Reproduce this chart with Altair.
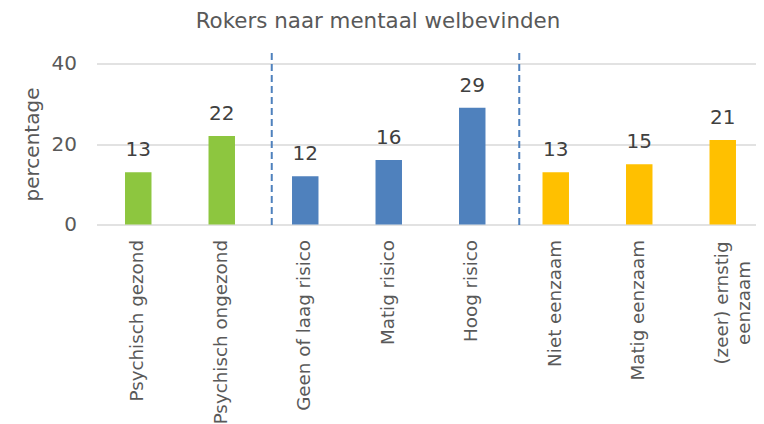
import altair as alt
import pandas as pd

categories = ["Psychisch gezond", "Psychisch ongezond", "Geen of laag risico",
              "Matig risico", "Hoog risico", "Niet eenzaam", "Matig eenzaam",
              "(zeer) ernstig eenzaam"]
values = [13, 22, 12, 16, 29, 13, 15, 21]
groups = ["psychisch", "psychisch", "risico", "risico", "risico",
          "eenzaam", "eenzaam", "eenzaam"]
group_names = ["psychisch", "risico", "eenzaam"]
group_colors = ["#8DC63F", "#4F81BD", "#FFC000"]
separators = ["Geen of laag risico", "Niet eenzaam"]

df = pd.DataFrame({"cat": categories, "val": values, "grp": groups})

FONT = "DejaVu Sans"
GREY = "#595959"
wrapped = "(zeer) ernstig eenzaam"

# plot area continues past the right edge of the window, as in the reference
xscale = alt.Scale(domain=categories, paddingInner=0.683, paddingOuter=0.3415, range=[0, 668])
yscale = alt.Scale(domain=[0, 40])

x_enc = alt.X(
    "cat:N", scale=xscale, title=None, sort=categories,
    axis=alt.Axis(
        labelAngle=270, ticks=False, domain=False, grid=False,
        labelFont=FONT, labelFontSize=18.3, labelColor=GREY,
        labelLineHeight=22,
        labelExpr=f"datum.value == '{wrapped}' ? ['(zeer) ernstig', 'eenzaam'] : datum.value",
        labelAlign={"condition": {"test": f"datum.value == '{wrapped}'", "value": "center"}, "value": "right"},
        labelPadding={"condition": {"test": f"datum.value == '{wrapped}'", "value": 78}, "value": 15},
        labelLimit=300,
    ),
)

y_enc = alt.Y(
    "val:Q", scale=yscale, title="percentage",
    axis=alt.Axis(
        values=[0, 20, 40], ticks=False, domain=False,
        gridColor="#D9D9D9", gridWidth=1.5,
        labelFont=FONT, labelFontSize=20, labelColor=GREY, labelPadding=20,
        titleFont=FONT, titleFontSize=20, titleColor=GREY, titleFontWeight="normal",
        titleX=-58, titleBaseline="alphabetic",
    ),
)

base = alt.Chart(df)

bars = base.mark_bar().encode(
    x=x_enc, y=y_enc,
    color=alt.Color("grp:N", scale=alt.Scale(domain=group_names, range=group_colors), legend=None),
)

labels = base.mark_text(dy=-16, baseline="alphabetic", font=FONT, fontSize=20, color="#404040").encode(
    x=alt.X("cat:N", scale=xscale, sort=categories),
    y=alt.Y("val:Q", scale=yscale),
    text="val:Q",
)

sep_df = pd.DataFrame({"cat": separators})
rule1 = alt.Chart(sep_df[sep_df.cat == separators[0]]).mark_rule(
    color="#4F81BD", strokeDash=[7, 4], strokeWidth=2, xOffset=-33.5
).encode(
    x=alt.X("cat:N", scale=xscale),
    y=alt.datum(42.6), y2=alt.datum(-1.1),
)
rule2 = alt.Chart(sep_df[sep_df.cat == separators[1]]).mark_rule(
    color="#4F81BD", strokeDash=[7, 4], strokeWidth=2, xOffset=-36.5
).encode(
    x=alt.X("cat:N", scale=xscale),
    y=alt.datum(42.6), y2=alt.datum(-1.1),
)

chart = alt.layer(bars, labels, rule1, rule2).properties(
    width=659.5, height=161,
    autosize=alt.AutoSizeParams(type="none"),
    padding={"left": 88.5, "top": 55.5, "right": 0, "bottom": 200},
    title=alt.TitleParams(
        "Rokers naar mentaal welbevinden", font=FONT, fontSize=21.4, color=GREY,
        fontWeight="normal", anchor="middle", frame="group", dx=-48.25,
        baseline="alphabetic", offset=3,
    ),
).configure_view(stroke=None)

chart.save("out.html", embed_options={"renderer": "svg", "actions": False})
